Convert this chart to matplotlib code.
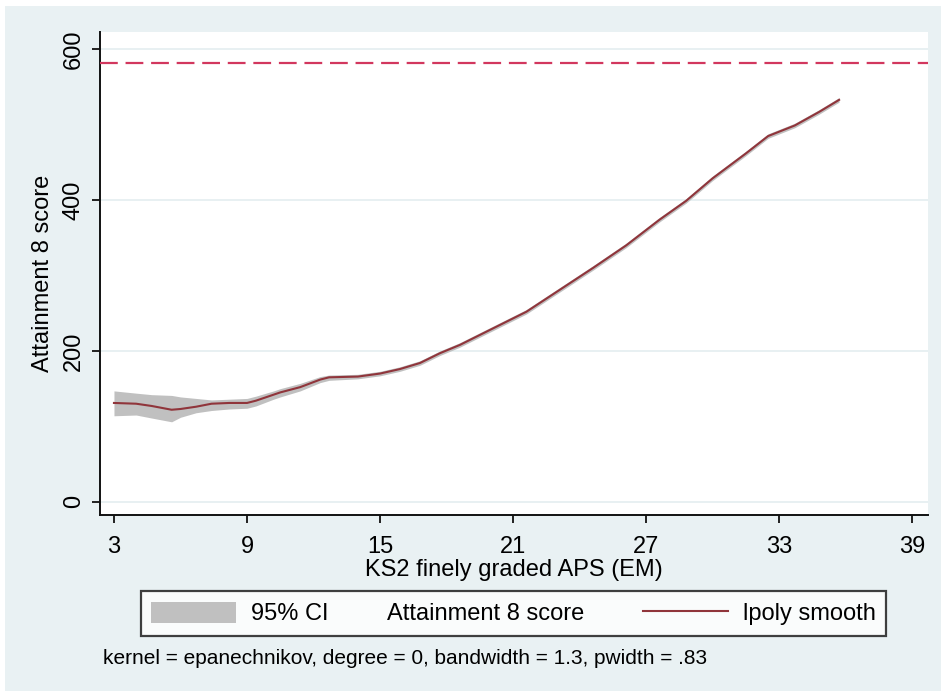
import matplotlib
matplotlib.use("Agg")
import matplotlib.pyplot as plt
from matplotlib.patches import Patch, Rectangle
from matplotlib.lines import Line2D

plt.rcParams['font.family'] = ['Liberation Sans', 'DejaVu Sans']

# KS2 finely graded APS (EM) grid and lpoly smooth of Attainment 8 score
ks2 = [3.0, 4.0, 4.7, 5.6, 6.0, 6.7, 7.4, 8.2, 9.0, 9.4, 10.2, 10.5, 11.4, 12.3,
       12.7, 14.0, 15.0, 15.9, 16.8, 17.7, 18.6, 20.1, 21.6, 23.1, 24.6, 26.1,
       27.6, 28.8, 30.0, 31.5, 32.5, 33.7, 34.8, 35.7]
att8 = [131, 130, 127, 122, 123, 126, 130, 131, 131, 134, 142, 145, 152, 162,
        165, 166, 170, 176, 184, 197, 208, 230, 252, 281, 310, 340,
        374, 399, 429, 462, 485, 499, 517, 533]
ci_low = [114, 115, 111, 106, 112, 118, 121, 123, 124, 127, 136, 139, 147, 158,
          161, 163, 167, 173, 181, 194, 205, 227, 249, 278, 307, 337,
          371, 396, 426, 459, 482, 496, 514, 530]
ci_high = [147, 144, 142, 141, 139, 137, 135, 136, 137, 140, 147, 150, 157, 166,
           168, 169, 173, 179, 187, 200, 211, 233, 255, 284, 313, 343,
           377, 402, 432, 465, 488, 502, 520, 536]
target_line = 582

x_ticks = [3, 9, 15, 21, 27, 33, 39]
y_ticks = [0, 200, 400, 600]

bg = '#e9f1f3'
cranberry = '#90353b'
ci_gray = '#c0c0c0'
dash_red = '#d2375e'

fig = plt.figure(figsize=(9.41, 6.91), dpi=100, facecolor='white')
fig.patches.append(Rectangle((5 / 941, 0), 1, 1 - 6 / 691, transform=fig.transFigure,
                             facecolor=bg, edgecolor='none', zorder=-10))

ax = fig.add_axes([100 / 941, 1 - 515 / 691, 828 / 941, 483 / 691])
ax.set_facecolor('white')

ax.fill_between(ks2, ci_low, ci_high, color=ci_gray, lw=0, zorder=2)
ax.plot(ks2, att8, color=cranberry, lw=1.5, zorder=3)
ax.axhline(target_line, color=dash_red, lw=1.6, ls=(0, (8, 3.5)), zorder=3)

ax.set_xlim(2.37, 39.71)
ax.set_ylim(-17.6, 623)
ax.set_xticks(x_ticks)
ax.set_yticks(y_ticks)
ax.grid(axis='y', color='#e4edf0', lw=1.2, zorder=0)
ax.set_axisbelow(True)

for side in ('top', 'right'):
    ax.spines[side].set_visible(False)
for side in ('left', 'bottom'):
    ax.spines[side].set_linewidth(1.4)
    ax.spines[side].set_color('#111111')

ax.tick_params(axis='both', length=6, width=1.3, color='#111111', labelsize=17)
ax.tick_params(axis='x', pad=9)
ax.tick_params(axis='y', pad=5)
for lab in ax.get_yticklabels():
    lab.set_rotation(90)
    lab.set_va('center')

ax.set_xlabel('KS2 finely graded APS (EM)', fontsize=17, labelpad=1)
ax.set_ylabel('Attainment 8 score', fontsize=17, labelpad=6)

handles = [Patch(facecolor=ci_gray, edgecolor='none'),
           Line2D([], [], linestyle='none'),
           Line2D([], [], color=cranberry, lw=1.5)]
labels = ['95% CI', 'Attainment 8 score', 'lpoly smooth']
leg = fig.legend(handles, labels, ncol=3, loc='center',
                 bbox_to_anchor=((140 + 887) / 2 / 941, 1 - 613.5 / 691),
                 fontsize=17, frameon=True, fancybox=False, shadow=False,
                 handlelength=3.6, handleheight=1.0, handletextpad=0.6,
                 columnspacing=2.5, borderpad=0.45, borderaxespad=0)
leg.get_frame().set_edgecolor('#111111')
leg.get_frame().set_linewidth(1.6)
leg.get_frame().set_facecolor('white')

# the score entry carries no key symbol, so collapse its key box
entry = leg._legend_handle_box.get_children()[1].get_children()[0]
entry.sep = 0
entry.get_children()[0].width = 0

fig.text(103 / 941, 1 - 659 / 691, 'kernel = epanechnikov, degree = 0, bandwidth = 1.3, pwidth = .83',
         fontsize=15, va='center', ha='left')

fig.savefig('out.png', dpi=100, facecolor=fig.get_facecolor())
